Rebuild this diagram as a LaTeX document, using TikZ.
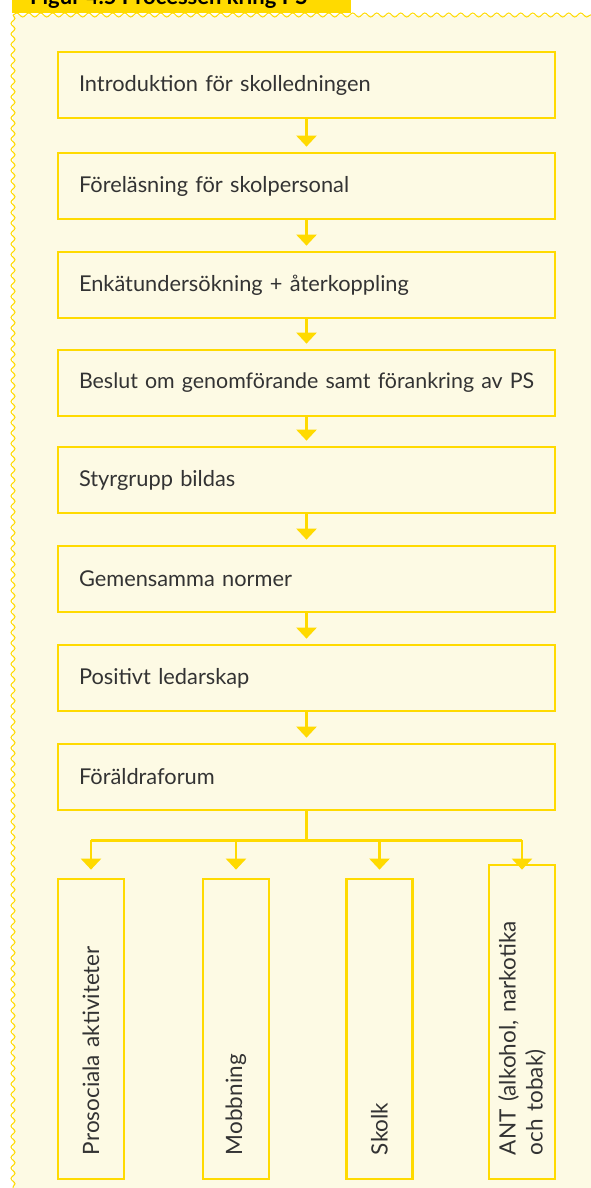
\documentclass[tikz,border=0pt]{standalone}
\usepackage{fontspec}
\setmainfont{Lato}
\usetikzlibrary{arrows.meta,decorations.pathmorphing}
\definecolor{psyellow}{HTML}{FFDA00}
\definecolor{pspaper}{HTML}{FDFAE4}
\definecolor{psink}{HTML}{333333}
\begin{document}
\begin{tikzpicture}[x=1pt,y=-1pt,
    stage/.style={draw=psyellow,line width=2.7pt,minimum height=66pt,inner xsep=21pt,
        text width=455pt,align=left,text=psink,font=\fontsize{21.8}{26}\selectfont},
    topic/.style={draw=psyellow,line width=2.7pt,rotate=90,minimum height=66pt,inner xsep=24pt,
        text width=252pt,align=left,text=psink,font=\fontsize{22.5}{27}\selectfont},
    flow/.style={draw=psyellow,line width=2.3pt,-{Triangle[width=20pt,length=11pt]},shorten >=5pt},
    wavy/.style={draw=psyellow,line width=1pt,decorate,decoration={snake,amplitude=2pt,segment length=#1}}]
            \useasboundingbox (0,0) rectangle (591,1188);
            \clip (0,0) rectangle (591,1188);
            \fill[pspaper] (13,15) rectangle (591,1188);
            \draw[wavy=12pt] (13,15) -- (591,15);
            \draw[wavy=10.5pt] (13,15) -- (13,1188);

            \fill[psyellow] (12,0) rectangle (351,13);
            \node[anchor=base west,inner sep=0,font=\bfseries\fontsize{22}{24}\selectfont] (title) at (30,5) {Figur 4.5 Processen kring PS};

            \node[stage] (intro) at (306.5,85) {Introduktion för skolledningen};
            \node[stage] (lecture) at (306.5,186) {Föreläsning för skolpersonal};
            \node[stage] (survey) at (306.5,285) {Enkätundersökning + återkoppling};
            \node[stage,font=\fontsize{21.4}{26}\selectfont] (decision) at (306.5,383) {\mbox{Beslut om genomförande samt förankring av PS}};
            \node[stage] (steering) at (306.5,480) {Styrgrupp bildas};
            \node[stage] (norms) at (306.5,579) {Gemensamma normer};
            \node[stage] (leadership) at (306.5,678) {Positivt ledarskap};
            \node[stage] (parents) at (306.5,777) {Föräldraforum};

            \draw[flow] (intro) -- (lecture);
            \draw[flow] (lecture) -- (survey);
            \draw[flow] (survey) -- (decision);
            \draw[flow] (decision) -- (steering);
            \draw[flow] (steering) -- (norms);
            \draw[flow] (norms) -- (leadership);
            \draw[flow] (leadership) -- (parents);

            \node[topic] (prosocial) at (91,1029) {Prosociala aktiviteter};
            \node[topic] (bullying) at (236,1029) {Mobbning};
            \node[topic] (truancy) at (379.5,1029) {Skolk};
            \node[topic,text width=266pt] (ant) at (522,1022) {ANT (alkohol, narkotika\\och tobak)};

            \draw[draw=psyellow,line width=2.3pt] (parents.south) -- ++(0,29) coordinate (split);
            \draw[draw=psyellow,line width=2.3pt] (split -| prosocial) -- (split -| ant);
            \draw[flow,shorten >=8pt] (split -| prosocial) -- (prosocial.east);
            \draw[flow,shorten >=8pt] (split -| bullying) -- (bullying.east);
            \draw[flow,shorten >=8pt] (split -| truancy) -- (truancy.east);
            \draw[flow,shorten >=-6pt] (split -| ant) -- (ant.east);
        \end{tikzpicture}
\end{document}
